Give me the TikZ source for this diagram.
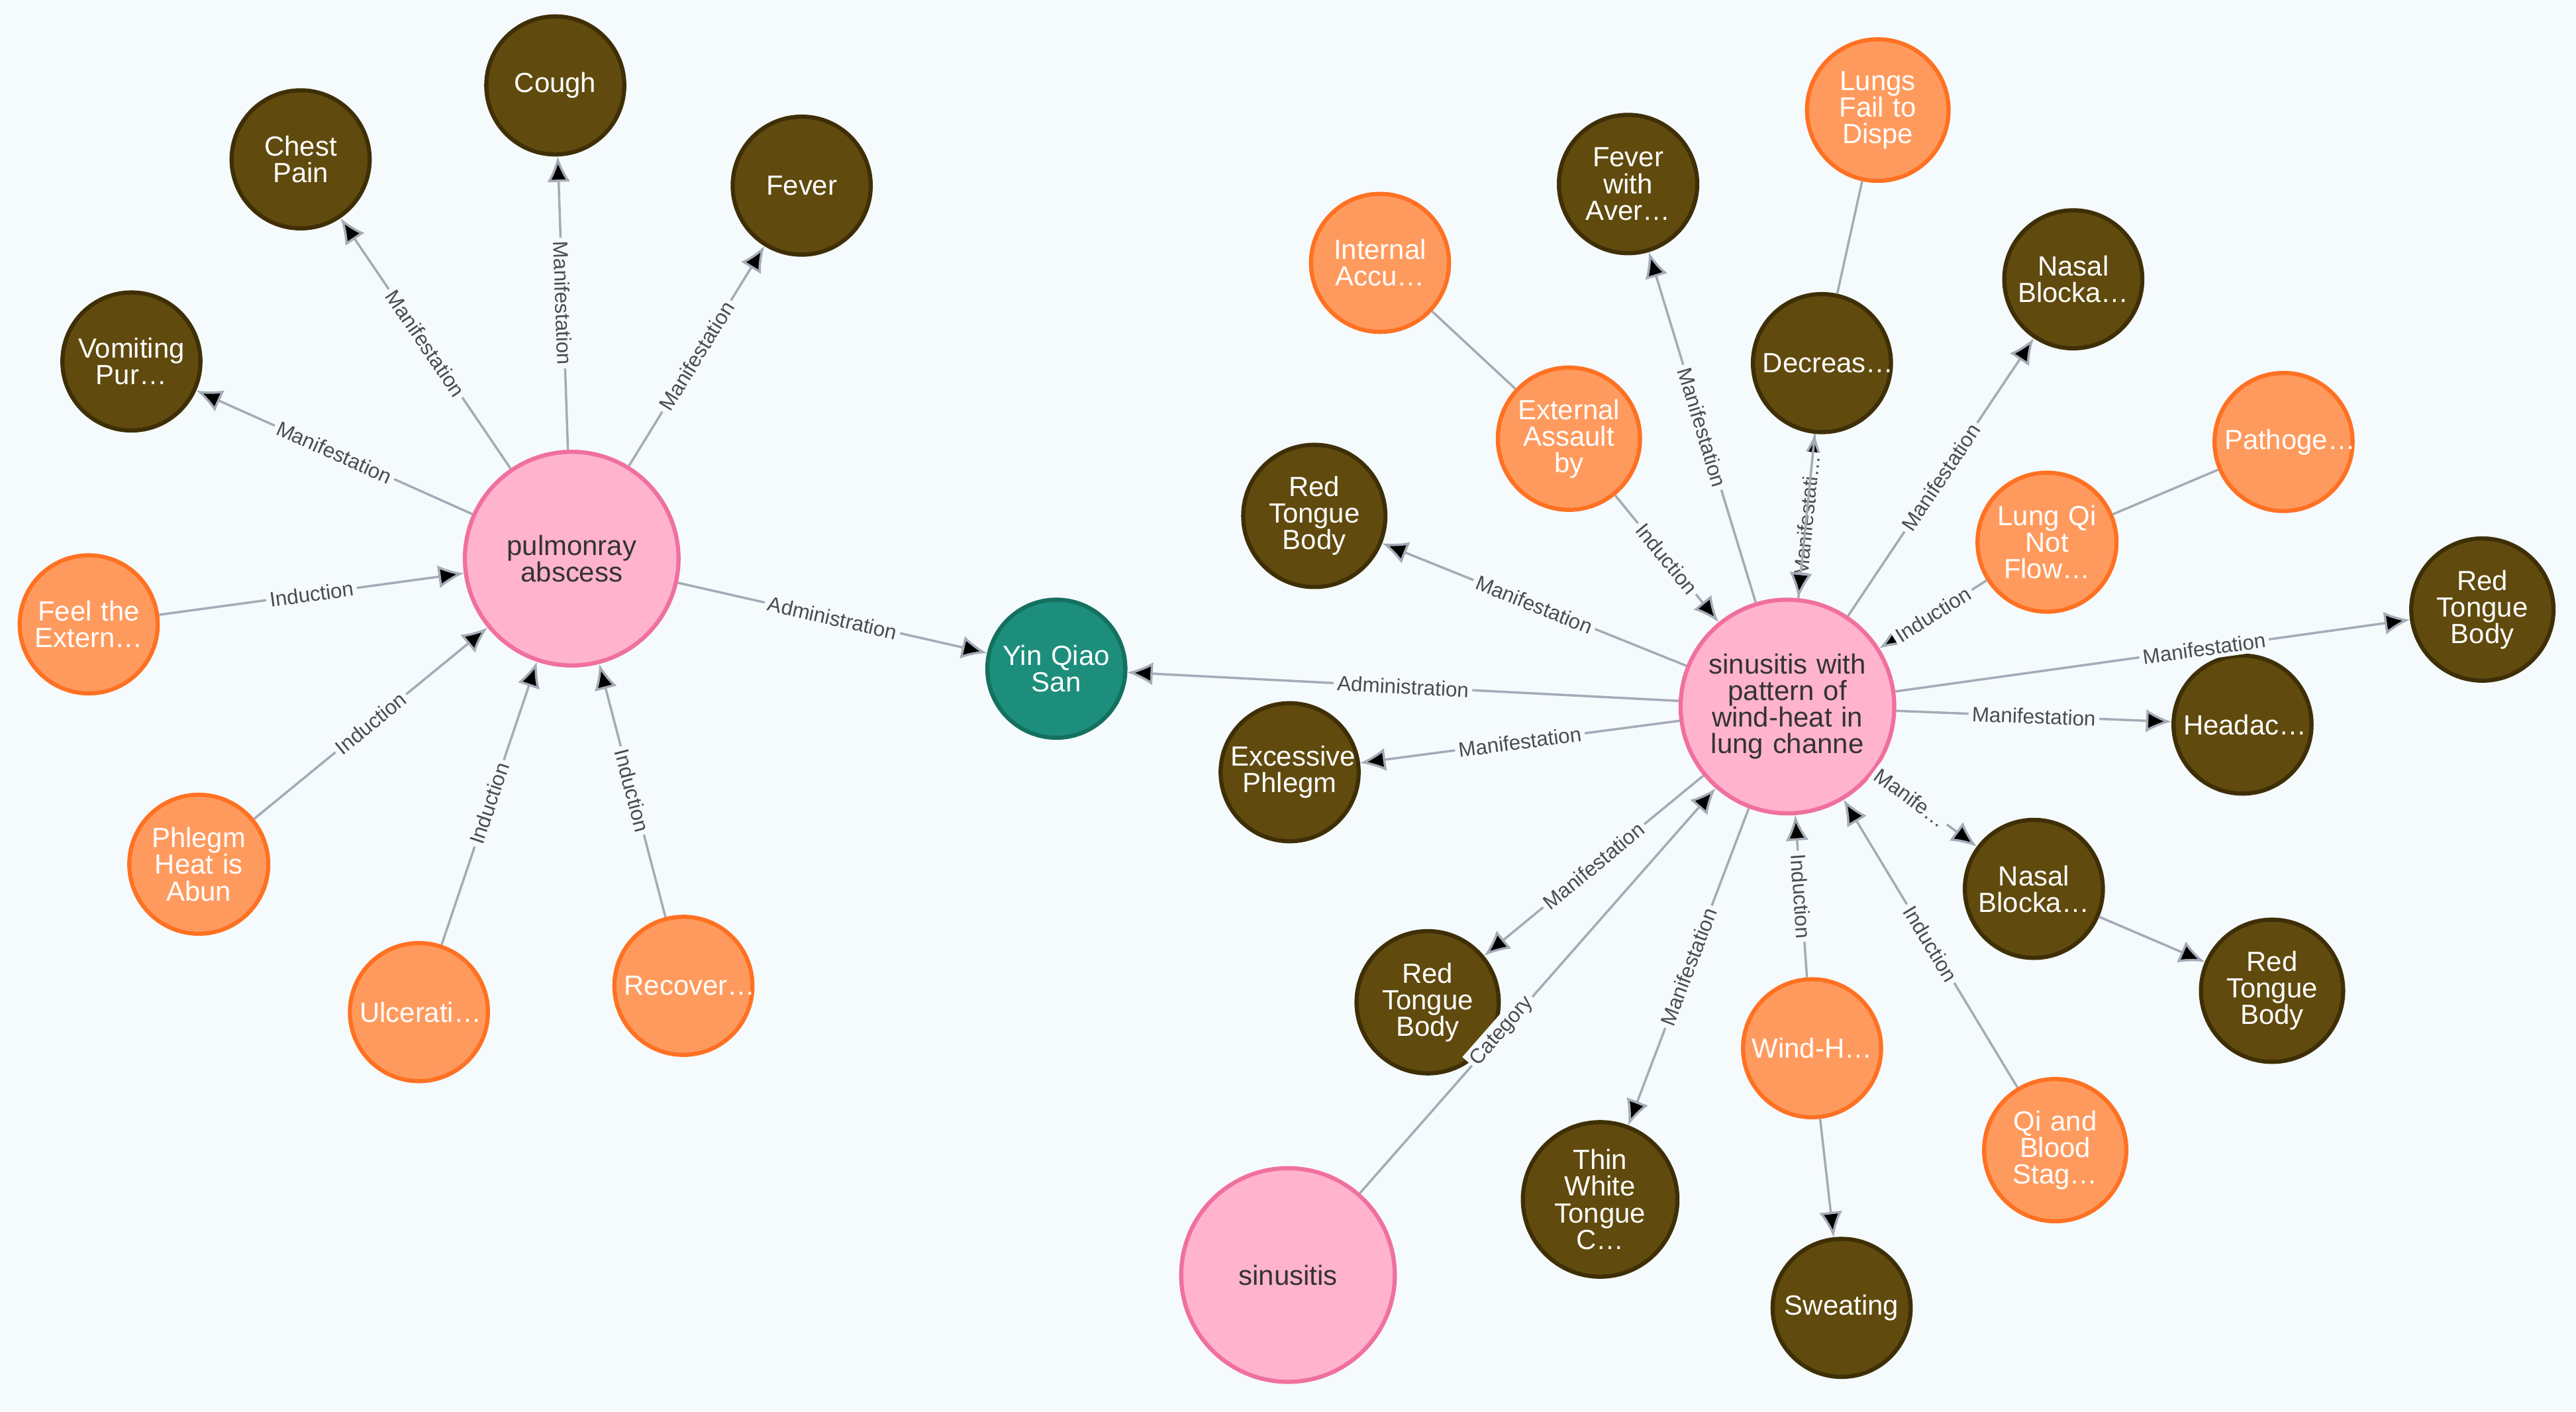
\documentclass[tikz,border=0pt]{standalone}
\usepackage{fontspec}
\setmainfont{Liberation Sans}
\usetikzlibrary{arrows.meta}
\definecolor{bgc}{HTML}{F5FAFD}
\definecolor{brownf}{HTML}{604A0E}
\definecolor{brownd}{HTML}{3F2F06}
\definecolor{orangef}{HTML}{FF9A5E}
\definecolor{oranged}{HTML}{FF7122}
\definecolor{pinkf}{HTML}{FFB3CD}
\definecolor{pinkd}{HTML}{F0709D}
\definecolor{tealf}{HTML}{1D8E7C}
\definecolor{teald}{HTML}{14705F}
\definecolor{edgec}{HTML}{A5ABB6}
\begin{document}
\begin{tikzpicture}[x=0.025cm, y=-0.025cm,
    >={Latex[length=11pt,width=10pt]},
    every node/.append style={align=center},
    sym/.style={circle, draw=brownd, fill=brownf, line width=1.8pt, minimum size=2.1cm, text=white, font=\fontsize{12}{11.5}\selectfont, text width=1.8cm, inner sep=0pt},
    cause/.style={sym, draw=oranged, fill=orangef},
    dis/.style={circle, draw=pinkd, fill=pinkf, line width=1.8pt, minimum size=3.25cm, text=black!80, font=\fontsize{12}{11.5}\selectfont, text width=2.7cm, inner sep=0pt},
    med/.style={sym, draw=teald, fill=tealf},
    rel/.style={draw=edgec, line width=1pt},
    lbl/.style={sloped, fill=bgc, inner sep=1.5pt, text=black!70, font=\fontsize{9}{9}\selectfont}]
   \fill[bgc] (0,0) rectangle (1568,859);
   % left cluster
   \node [dis] (pa) at (348,340) {pulmonray\\abscess};
   \node [sym] (cough) at (338,52) {Cough};
   \node [sym] (chest) at (183,97) {Chest\\Pain};
   \node [sym] (fever) at (488,113) {Fever};
   \node [sym] (vomit) at (80,220) {Vomiting\\Pur\dots};
   \node [cause] (feel) at (54,380) {Feel the\\Extern\dots};
   \node [cause] (phlegm) at (121,526) {Phlegm\\Heat is\\Abun};
   \node [cause] (ulcer) at (255,616) {Ulcerati\dots};
   \node [cause] (recover) at (416,600) {Recover\dots};
   \node [med] (yqs) at (643,407) {Yin Qiao\\San};
   % right cluster
   \node [dis] (sw) at (1088,430) {sinusitis with\\pattern of\\wind-heat in\\lung channe};
   \node [dis] (sin) at (784,776) {sinusitis};
   \node [cause] (inacc) at (840,160) {Internal\\Accu\dots};
   \node [cause] (extass) at (955,267) {External\\Assault\\by};
   \node [sym] (feva) at (991,112) {Fever\\with\\Aver\dots};
   \node [cause] (lungs) at (1143,67) {Lungs\\Fail to\\Dispe};
   \node [sym] (decr) at (1109,221) {Decreas\dots};
   \node [sym] (nasa) at (1262,170) {Nasal\\Blocka\dots};
   \node [cause] (patho) at (1390,269) {Pathoge\dots};
   \node [cause] (lungqi) at (1246,330) {Lung Qi\\Not\\Flow\dots};
   \node [sym] (rtba) at (800,314) {Red\\Tongue\\Body};
   \node [sym] (rtbb) at (1511,371) {Red\\Tongue\\Body};
   \node [sym] (head) at (1365,441) {Headac\dots};
   \node [sym] (exph) at (785,470) {Excessive\\Phlegm};
   \node [sym] (nasb) at (1238,541) {Nasal\\Blocka\dots};
   \node [sym] (rtbc) at (1383,603) {Red\\Tongue\\Body};
   \node [sym] (rtbd) at (869,610) {Red\\Tongue\\Body};
   \node [cause, text width=2cm] (windh) at (1103,638) {Wind-H\dots};
   \node [cause] (qiblood) at (1251,700) {Qi and\\Blood\\Stag\dots};
   \node [sym] (thinw) at (974,730) {Thin\\White\\Tongue\\C\dots};
   \node [sym] (sweat) at (1121,796) {Sweating};

   \path[rel, ->] (pa) edge node [lbl] {Manifestation} (cough)
   (pa) edge node [lbl] {Manifestation} (chest)
   (pa) edge node [lbl] {Manifestation} (fever)
   (pa) edge node [lbl] {Manifestation} (vomit)
   (feel) edge node [lbl] {Induction} (pa)
   (phlegm) edge node [lbl] {Induction} (pa)
   (ulcer) edge node [lbl] {Induction} (pa)
   (recover) edge node [lbl] {Induction} (pa)
   (pa) edge node [lbl] {Administration} (yqs)
   (sw) edge node [lbl] {Administration} (yqs)
   (extass) edge node [lbl] {Induction} (sw)
   (sw) edge node [lbl] {Manifestation} (feva)
   (sw) edge node [lbl] {Manifestati\dots} (decr)
   (decr) edge (sw)
   (sw) edge node [lbl] {Manifestation} (nasa)
   (lungqi) edge node [lbl] {Induction} (sw)
   (sw) edge node [lbl] {Manifestation} (rtba)
   (sw) edge node [lbl, pos=0.6] {Manifestation} (rtbb)
   (sw) edge node [lbl] {Manifestation} (head)
   (sw) edge node [lbl] {Manifestation} (exph)
   (sw) edge node [lbl, pos=0.35] {Manife\dots} (nasb)
   (nasb) edge (rtbc)
   (sw) edge node [lbl] {Manifestation} (rtbd)
   (sin) edge node [lbl, pos=0.4] {Category} (sw)
   (sw) edge node [lbl] {Manifestation} (thinw)
   (windh) edge node [lbl] {Induction} (sw)
   (windh) edge (sweat)
   (qiblood) edge node [lbl] {Induction} (sw);
   \path[rel] (inacc) edge (extass)
   (lungs) edge (decr)
   (patho) edge (lungqi);
\end{tikzpicture}
\end{document}
